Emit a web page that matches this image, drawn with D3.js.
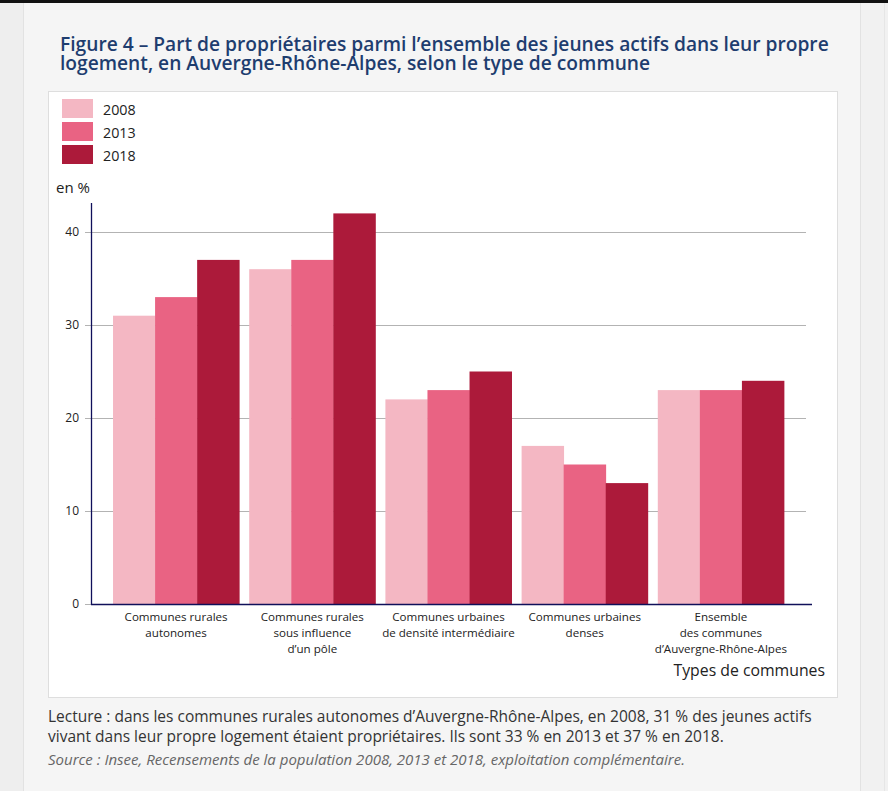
<!DOCTYPE html>
<html><head><meta charset="utf-8">
<script src="https://cdn.jsdelivr.net/npm/d3@7/dist/d3.min.js"></script>
<style>body{margin:0;padding:0;background:#f5f5f5;}svg{display:block;font-family:"Open Sans",sans-serif;}</style>
</head><body><svg id="c" width="888" height="791"></svg>
<script>
const categories = [
  ["Communes rurales","autonomes"],
  ["Communes rurales","sous influence","d’un pôle"],
  ["Communes urbaines","de densité intermédiaire"],
  ["Communes urbaines","denses"],
  ["Ensemble","des communes","d’Auvergne-Rhône-Alpes"]
];
const years = ["2008","2013","2018"];
const values2008 = [31,36,22,17,23];
const values2013 = [33,37,23,15,23];
const values2018 = [37,42,25,13,24];
const yTicks = [0,10,20,30,40];
const colors = ["#f4b7c3","#e96383","#ac1a3a"];
const series = [values2008, values2013, values2018];

const svg = d3.select("#c");
// page background
svg.append("rect").attr("x",0).attr("y",0).attr("width",888).attr("height",791).attr("fill","#f5f5f5");
svg.append("rect").attr("x",0).attr("y",0).attr("width",23).attr("height",791).attr("fill","#eeeeee");
svg.append("line").attr("x1",23.5).attr("x2",23.5).attr("y1",0).attr("y2",791).attr("stroke","#e2e2e2");
svg.append("rect").attr("x",861).attr("y",0).attr("width",27).attr("height",791).attr("fill","#f1f1f1");
svg.append("line").attr("x1",860.5).attr("x2",860.5).attr("y1",0).attr("y2",791).attr("stroke","#e2e2e2");
svg.append("line").attr("x1",884.5).attr("x2",884.5).attr("y1",0).attr("y2",791).attr("stroke","#e6e6e6");
svg.append("rect").attr("x",0).attr("y",0).attr("width",888).attr("height",3).attr("fill","#111");

// title
const title = svg.append("text").attr("fill","#1e3d6f").attr("font-weight",600).attr("font-size",19.2);
title.append("tspan").attr("x",60).attr("y",51).text("Figure 4 – Part de propriétaires parmi l’ensemble des jeunes actifs dans leur propre");
title.append("tspan").attr("x",60).attr("y",70).text("logement, en Auvergne-Rhône-Alpes, selon le type de commune");

// white box
svg.append("rect").attr("x",48.5).attr("y",91.5).attr("width",789).attr("height",606).attr("fill","#fff").attr("stroke","#dedede");

// legend
years.forEach((yr,i)=>{
  svg.append("rect").attr("x",62).attr("y",99+i*23).attr("width",31).attr("height",19).attr("fill",colors[i]);
  svg.append("text").attr("x",103).attr("y",115+i*23).attr("font-size",14.3).attr("fill","#222").text(yr);
});

const x0 = d3.scaleBand().domain(d3.range(categories.length)).range([91,806]).paddingInner(0.0735).paddingOuter(0.1617);
const x1 = d3.scaleBand().domain(d3.range(years.length)).range([0,x0.bandwidth()]);
const y = d3.scaleLinear().domain([0,40]).range([604,232]);

// gridlines
svg.append("g").selectAll("line").data(yTicks.filter(d=>d>0)).join("line")
  .attr("x1",91).attr("x2",806).attr("y1",d=>y(d)+0.5).attr("y2",d=>y(d)+0.5).attr("stroke","#b3b3b3");

// y axis
const yAxis = svg.append("g").attr("transform","translate(91,0)")
  .call(d3.axisLeft(y).tickValues(yTicks).tickSize(6).tickPadding(6));
yAxis.select(".domain").remove();
yAxis.selectAll(".tick line").attr("stroke","#b3b3b3");
yAxis.selectAll(".tick text").attr("font-size",12).attr("fill","#222").attr("font-family","Open Sans");
svg.append("text").attr("x",56).attr("y",193).attr("font-size",15).attr("fill","#222").text("en %");

// bars
series.forEach((vals,si)=>{
  svg.append("g").selectAll("rect").data(vals).join("rect")
    .attr("x",(d,i)=>x0(i)+x1(si))
    .attr("width",x1.bandwidth()+0.4)
    .attr("y",d=>y(d))
    .attr("height",d=>y(0)-y(d))
    .attr("fill",colors[si]);
});

// axis lines
svg.append("line").attr("x1",91.5).attr("x2",91.5).attr("y1",203).attr("y2",604.5).attr("stroke","#10105a").attr("stroke-width",1.3);
svg.append("line").attr("x1",91).attr("x2",812).attr("y1",604.5).attr("y2",604.5).attr("stroke","#10105a").attr("stroke-width",1.3);

// category labels
categories.forEach((lines,i)=>{
  const t = svg.append("text").attr("text-anchor","middle").attr("font-size",11.6).attr("fill","#222");
  lines.forEach((l,j)=>t.append("tspan").attr("x",x0(i)+x0.bandwidth()/2).attr("y",621+j*15.8).text(l));
});
svg.append("text").attr("x",825).attr("y",676).attr("text-anchor","end").attr("font-size",15.8).attr("fill","#222").text("Types de communes");

// notes
svg.append("text").attr("x",48).attr("y",722).attr("font-size",15.5).attr("fill","#333")
  .text("Lecture : dans les communes rurales autonomes d’Auvergne-Rhône-Alpes, en 2008, 31 % des jeunes actifs");
svg.append("text").attr("x",48).attr("y",742).attr("font-size",15.5).attr("fill","#333")
  .text("vivant dans leur propre logement étaient propriétaires. Ils sont 33 % en 2013 et 37 % en 2018.");
svg.append("text").attr("x",48).attr("y",765).attr("font-size",15).attr("font-style","italic").attr("fill","#666")
  .text("Source : Insee, Recensements de la population 2008, 2013 et 2018, exploitation complémentaire.");
</script></body></html>
